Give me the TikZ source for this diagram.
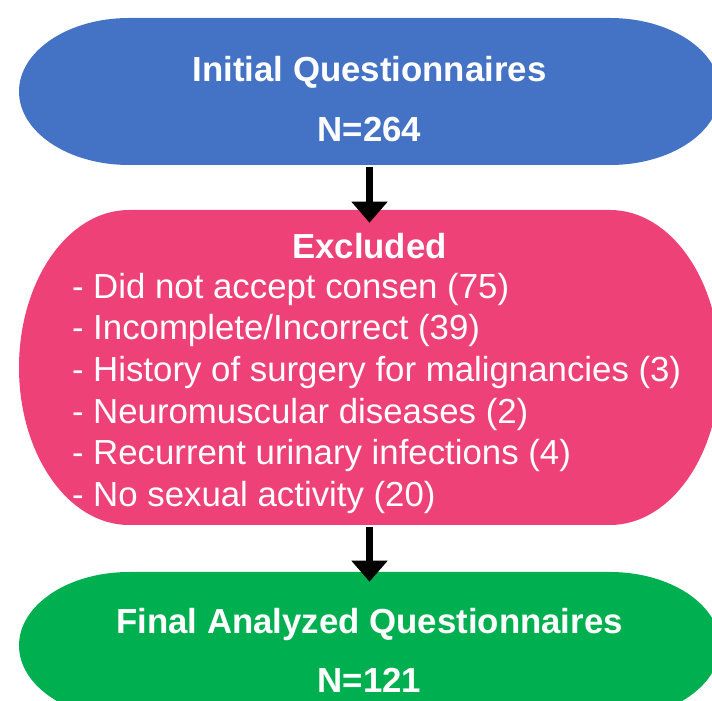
\documentclass[tikz,border=0pt]{standalone}
\usepackage{fontspec}
\setmainfont{Liberation Sans}
\usetikzlibrary{arrows.meta}
\definecolor{termblue}{RGB}{68,114,196}
\definecolor{termpink}{RGB}{238,65,120}
\definecolor{termgreen}{RGB}{0,176,80}
\tikzset{
  shapebox/.style={draw=none, fill=none, inner sep=0pt, outer sep=0pt, minimum width=701pt},
  headtext/.style={text=white, inner sep=0pt, anchor=base, font=\fontsize{34.8}{41.7}\selectfont\bfseries},
  listtext/.style={text=white, inner sep=0pt, anchor=base west, font=\fontsize{34.8}{41.7}\selectfont},
  flowarrow/.style={line width=7pt, -{Triangle[length=21pt,width=35pt]}, black}
}
\newcommand{\terminatorfill}[3]{%
  \fill[#3] ([xshift=110pt]#1.north west) -- ([xshift=-110pt]#1.north east)
    arc[start angle=90, end angle=-90, x radius=110pt, y radius=#2]
    -- ([xshift=110pt]#1.south west)
    arc[start angle=270, end angle=90, x radius=110pt, y radius=#2] -- cycle;}
\begin{document}
\begin{tikzpicture}[x=1pt,y=1pt]
\useasboundingbox (0,0) rectangle (712,701);
\clip (0,0) rectangle (712,701);
% shape frames
\node[shapebox, minimum height=147pt] (blue) at (369.5,609.5) {};
\node[shapebox, minimum height=315pt] (pink) at (369.5,333.5) {};
\node[shapebox, minimum height=147pt] (green) at (369.5,55.5) {};
\terminatorfill{blue}{73.5pt}{termblue}
\terminatorfill{pink}{157.5pt}{termpink}
\terminatorfill{green}{73.5pt}{termgreen}
% texts
\node[headtext] (b1) at (369.5,619.3) {Initial Questionnaires};
\node[headtext] (b2) at (369.5,559.3) {N=264};
\node[headtext] (p0) at (369.5,442.7) {Excluded};
\node[listtext] (p1) at (71.8,402.7) {- Did not accept consen (75)};
\node[listtext] (p2) at (71.8,361.0) {- Incomplete/Incorrect (39)};
\node[listtext] (p3) at (71.8,319.3) {- History of surgery for malignancies (3)};
\node[listtext] (p4) at (71.8,277.7) {- Neuromuscular diseases (2)};
\node[listtext] (p5) at (71.8,236.0) {- Recurrent urinary infections (4)};
\node[listtext] (p6) at (71.8,194.3) {- No sexual activity (20)};
\node[headtext] (g1) at (369.5,67.5) {Final Analyzed Questionnaires};
\node[headtext] (g2) at (369.5,8.5) {N=121};
% arrows
\draw[flowarrow] ([yshift=-1.7pt]blue.south) -- ([yshift=-12.7pt]pink.north);
\draw[flowarrow] ([yshift=-1.7pt]pink.south) -- ([yshift=-9.7pt]green.north);
\end{tikzpicture}
\end{document}
